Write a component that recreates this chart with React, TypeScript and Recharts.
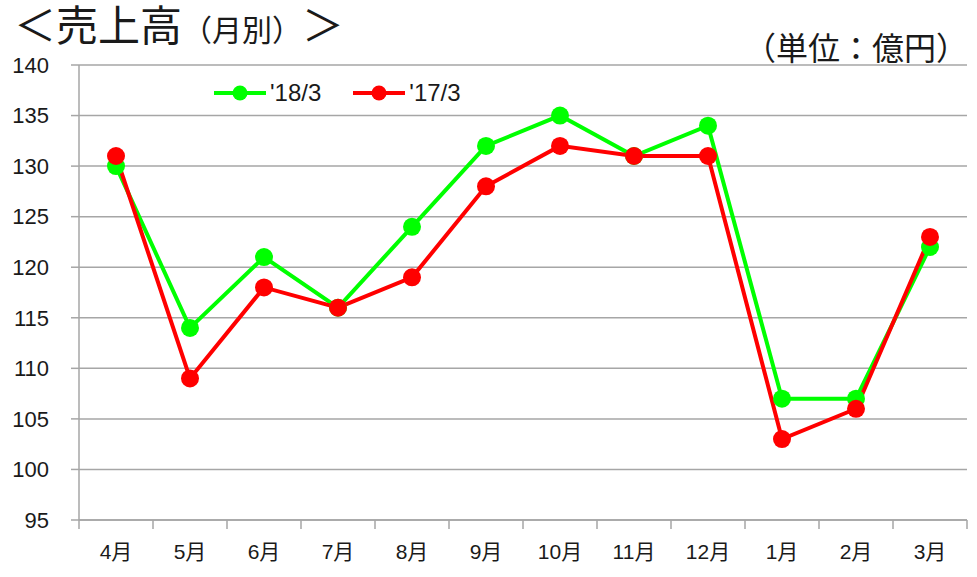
import React from 'react';
import { LineChart, Line, XAxis, YAxis, CartesianGrid, Legend } from 'recharts';

const months = ['4月', '5月', '6月', '7月', '8月', '9月', '10月', '11月', '12月', '1月', '2月', '3月'];
const sales18 = [130, 114, 121, 116, 124, 132, 135, 131, 134, 107, 107, 122];
const sales17 = [131, 109, 118, 116, 119, 128, 132, 131, 131, 103, 106, 123];
const yTicks = [95, 100, 105, 110, 115, 120, 125, 130, 135, 140];
const seriesNames = ["'18/3", "'17/3"];

const data = months.map((m, i) => ({ month: m, s18: sales18[i], s17: sales17[i] }));

const W = 977;
const H = 577;
const M = { top: 65, right: 10, left: 8, bottom: 0 };
const Y_AXIS_W = 71;
const X_AXIS_H = 57;
const PLOT_LEFT = M.left + Y_AXIS_W;
const PLOT_W = W - PLOT_LEFT - M.right;
const BAND = PLOT_W / months.length;
const AXIS_Y = H - M.bottom - X_AXIS_H;

const GRID = '#a6a6a6';
const GREEN = '#00ff00';
const RED = '#ff0000';
const FONT = '"Liberation Sans", Arial, "Noto Sans CJK JP", sans-serif';
const JFONT = '"Noto Sans CJK JP", sans-serif';

const XTick = (props: any) => {
  const { x, payload, index } = props;
  const left = x - BAND / 2;
  return (
    <g>
      <line x1={left} x2={left} y1={AXIS_Y} y2={AXIS_Y + 9} stroke={GRID} strokeWidth={1.5} />
      {index === months.length - 1 && (
        <line x1={x + BAND / 2} x2={x + BAND / 2} y1={AXIS_Y} y2={AXIS_Y + 9} stroke={GRID} strokeWidth={1.5} />
      )}
      <text x={x} y={AXIS_Y + 39} textAnchor="middle" fontSize={21} fill="#1a1a1a" fontFamily={FONT}>
        {payload.value}
      </text>
    </g>
  );
};

const LegendContent = () => {
  const items = [
    { name: seriesNames[0], color: GREEN },
    { name: seriesNames[1], color: RED },
  ];
  return (
    <div style={{ display: 'flex', alignItems: 'center', fontFamily: FONT, fontSize: 24, color: '#1a1a1a' }}>
      {items.map((it, i) => (
        <div key={it.name} style={{ display: 'flex', alignItems: 'center', marginRight: i === 0 ? 32 : 0 }}>
          <svg width={52} height={20} style={{ display: 'block' }}>
            <line x1={0} x2={52} y1={10} y2={10} stroke={it.color} strokeWidth={4} />
            <circle cx={26} cy={10} r={7.5} fill={it.color} />
          </svg>
          <span style={{ marginLeft: 4, lineHeight: '24px' }}>{it.name}</span>
        </div>
      ))}
    </div>
  );
};

const ib: React.CSSProperties = { display: 'inline-block', lineHeight: 1 };

export default function App() {
  return (
    <div style={{ position: 'absolute', left: 0, top: 0, width: W, height: H, background: '#fff' }}>
      <LineChart width={W} height={H} data={data} margin={M}>
        <CartesianGrid vertical={false} stroke={GRID} strokeWidth={1.5} />
        <XAxis
          dataKey="month"
          scale="band"
          height={X_AXIS_H}
          tickLine={false}
          axisLine={{ stroke: GRID, strokeWidth: 1.5 }}
          tick={<XTick />}
          interval={0}
        />
        <YAxis
          width={Y_AXIS_W}
          domain={[95, 140]}
          ticks={yTicks}
          interval={0}
          tickSize={8}
          tickMargin={22}
          tickLine={{ stroke: GRID, strokeWidth: 1.5 }}
          axisLine={{ stroke: GRID, strokeWidth: 1.5 }}
          tick={{ fontSize: 22, fill: '#1a1a1a', fontFamily: FONT }}
        />
        <Legend
          layout="horizontal"
          verticalAlign="middle"
          align="center"
          content={<LegendContent />}
          wrapperStyle={{ position: 'absolute', top: 81, left: 214, width: 'auto' }}
        />
        <Line
          dataKey="s18"
          name={seriesNames[0]}
          stroke={GREEN}
          strokeWidth={4}
          dot={{ r: 9, fill: GREEN, stroke: GREEN, strokeWidth: 0 }}
          activeDot={false}
          isAnimationActive={false}
        />
        <Line
          dataKey="s17"
          name={seriesNames[1]}
          stroke={RED}
          strokeWidth={4}
          dot={{ r: 9, fill: RED, stroke: RED, strokeWidth: 0 }}
          activeDot={false}
          isAnimationActive={false}
        />
      </LineChart>
      <div
        style={{
          position: 'absolute',
          left: 14,
          top: 2,
          fontFamily: JFONT,
          fontSize: 42,
          color: '#1a1a1a',
          lineHeight: 1,
          whiteSpace: 'nowrap',
        }}
      >
        <span style={{ ...ib, fontSize: 42 }}>＜売上高</span>
        <span style={{ ...ib, fontSize: 30 }}>（月別）</span>
        <span style={{ ...ib, fontSize: 42 }}>＞</span>
      </div>
      <div
        style={{
          position: 'absolute',
          left: 744,
          top: 30,
          fontFamily: JFONT,
          fontSize: 32,
          color: '#1a1a1a',
          lineHeight: 1,
          whiteSpace: 'nowrap',
        }}
      >
        <span style={{ ...ib }}>（単位：億円）</span>
      </div>
    </div>
  );
}
